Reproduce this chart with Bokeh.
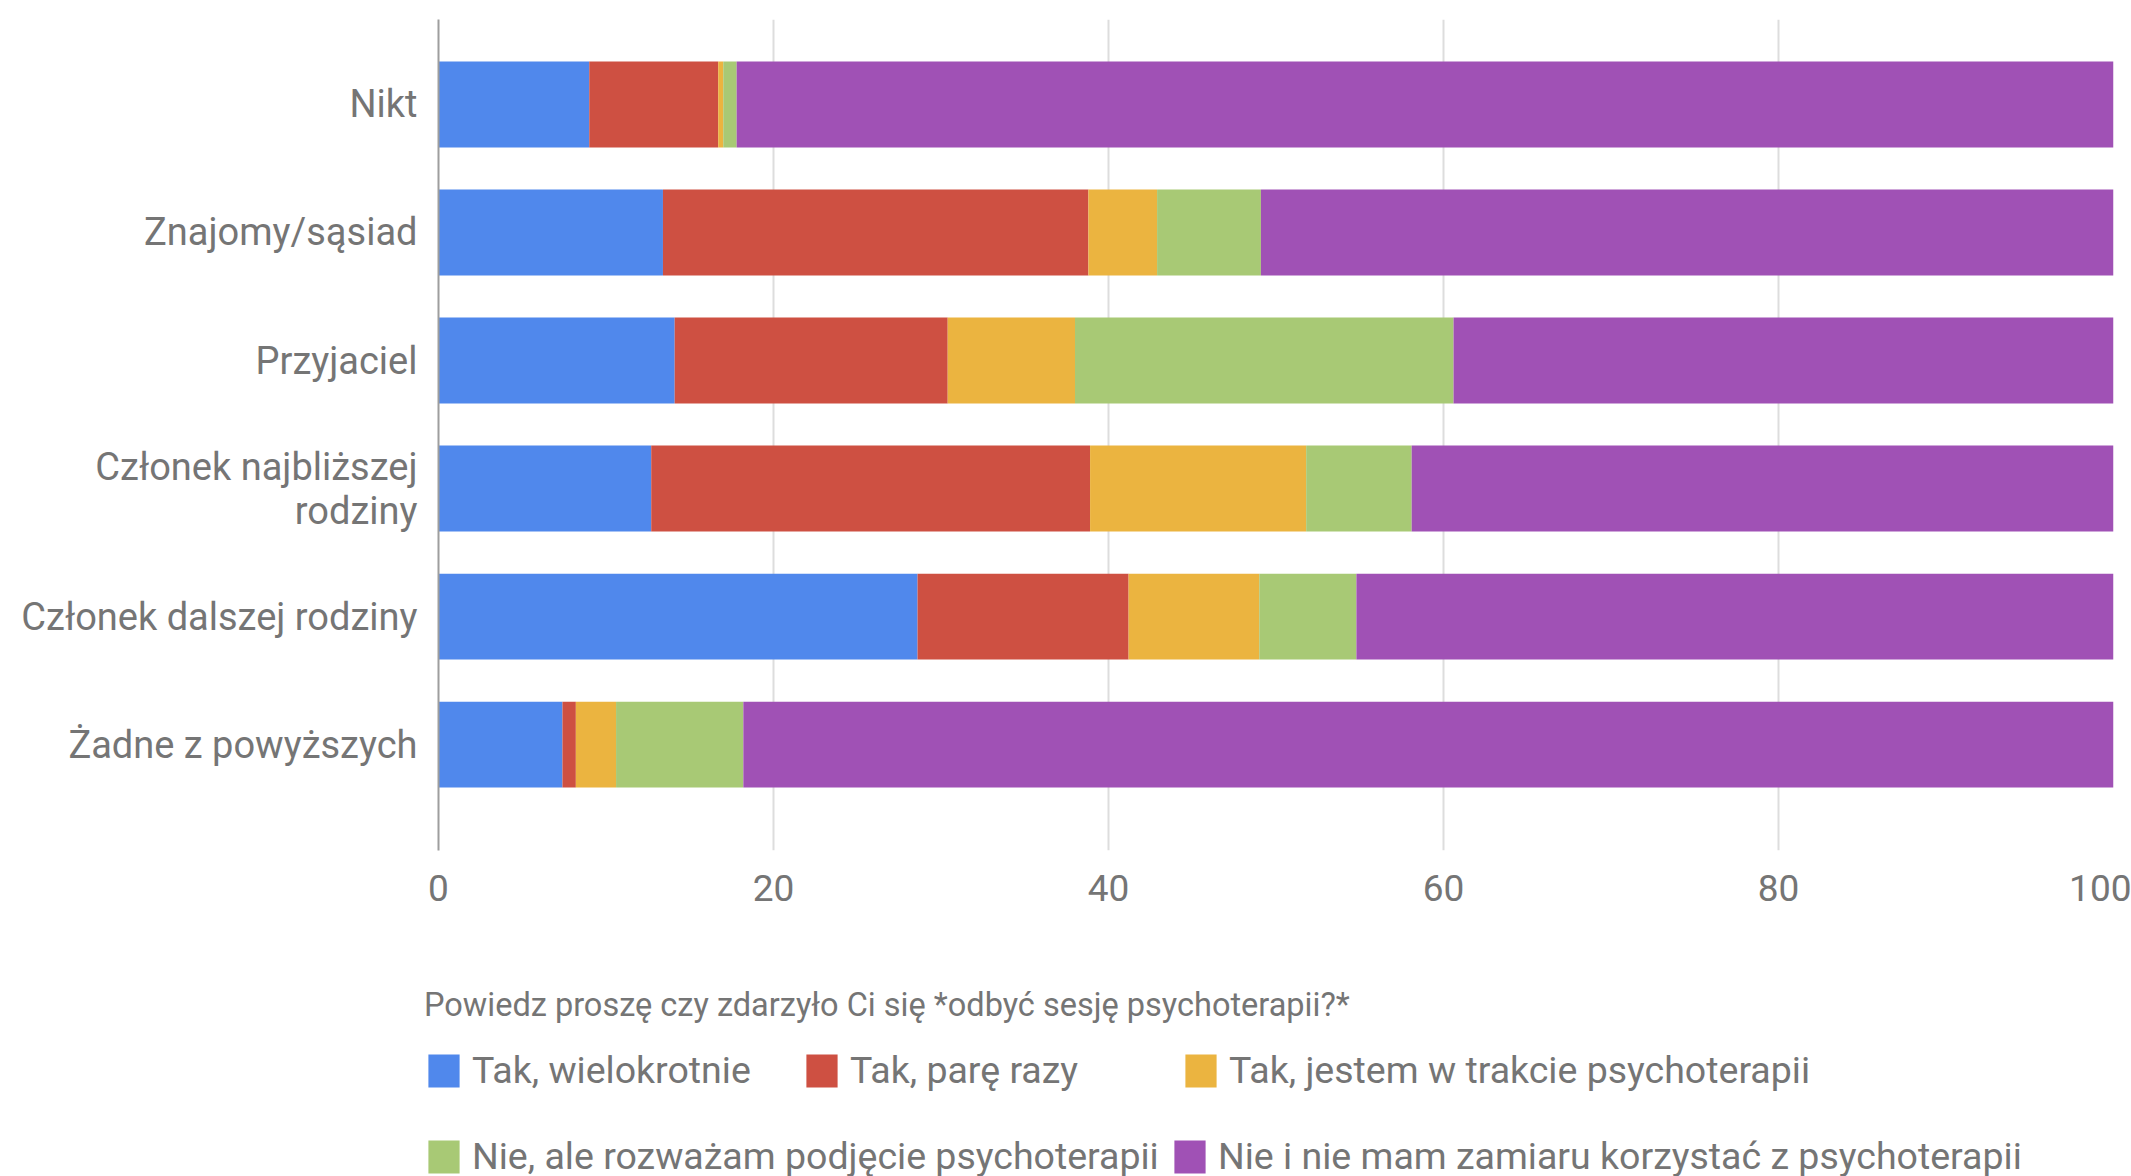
from bokeh.plotting import figure
from bokeh.layouts import column
from bokeh.models import ColumnDataSource, Range1d, FixedTicker, Legend, LegendItem
from bokeh.embed import file_html
from bokeh.resources import INLINE

# ---- data ----
categories = ["Nikt", "Znajomy/sąsiad", "Przyjaciel", "Członek najbliższej\nrodziny",
              "Członek dalszej rodziny", "Żadne z powyższych"]
tak_wielokrotnie = [9.0, 13.4, 14.1, 12.7, 28.6, 7.4]
tak_pare_razy = [7.7, 25.4, 16.3, 26.2, 12.6, 0.8]
tak_w_trakcie = [0.3, 4.1, 7.6, 12.9, 7.8, 2.4]
nie_rozwazam = [0.8, 6.2, 22.6, 6.3, 5.8, 7.6]
nie_nie_zamierzam = [82.2, 50.9, 39.4, 41.9, 45.2, 81.8]
series_labels = ["Tak, wielokrotnie", "Tak, parę razy", "Tak, jestem w trakcie psychoterapii",
                 "Nie, ale rozważam podjęcie psychoterapii", "Nie i nie mam zamiaru korzystać z psychoterapii"]
x_ticks = [0, 20, 40, 60, 80, 100]
legend_title = "Powiedz proszę czy zdarzyło Ci się *odbyć sesję psychoterapii?*"

colors = ["#5088EC", "#CE5042", "#EBB440", "#A8C975", "#A051B5"]
FONT = "Roboto"
GREY = "#757575"

keys = ["s0", "s1", "s2", "s3", "s4"]
ypos = list(range(len(categories)))[::-1]
src = ColumnDataSource(dict(y=ypos, s0=tak_wielokrotnie, s1=tak_pare_razy, s2=tak_w_trakcie,
                            s3=nie_rozwazam, s4=nie_nie_zamierzam))

p = figure(width=2131, height=960, output_backend="svg", toolbar_location=None,
           x_range=Range1d(0, 100), y_range=Range1d(-0.828, 5.664),
           min_border_left=438, min_border_right=18, min_border_top=19, min_border_bottom=110)
p.frame_align = False
p.outline_line_color = None
p.background_fill_color = "white"
p.border_fill_color = "white"

renderers = p.hbar_stack(keys, y="y", height=0.67, color=colors, source=src, line_color=None)

# axes
p.xaxis.ticker = FixedTicker(ticks=x_ticks)
p.xaxis.axis_line_color = None
p.xaxis.major_tick_line_color = None
p.xaxis.minor_tick_line_color = None
p.xaxis.major_label_text_font = FONT
p.xaxis.major_label_text_font_size = "37px"
p.xaxis.major_label_text_color = GREY
p.xaxis.major_label_standoff = 18

p.yaxis.ticker = FixedTicker(ticks=ypos)
p.yaxis.major_label_overrides = {y: c for y, c in zip(ypos, categories)}
p.yaxis.axis_line_color = "#9e9e9e"
p.yaxis.axis_line_width = 2
p.yaxis.major_tick_line_color = None
p.yaxis.minor_tick_line_color = None
p.yaxis.major_label_text_font = FONT
p.yaxis.major_label_text_font_size = "38px"
p.yaxis.major_label_text_color = GREY
p.yaxis.major_label_text_line_height = 1.0
p.yaxis.major_label_standoff = 15

p.ygrid.grid_line_color = None
p.xgrid.ticker = FixedTicker(ticks=x_ticks)
p.xgrid.grid_line_color = "#dddddd"
p.xgrid.grid_line_width = 2

# ---- legend area (flow layout like the reference) ----
lg = figure(width=2131, height=216, output_backend="svg", toolbar_location=None,
            x_range=Range1d(0, 1), y_range=Range1d(0, 1),
            x_axis_location=None, y_axis_location=None,
            min_border_left=0, min_border_right=0, min_border_top=0, min_border_bottom=0)
lg.frame_align = False
lg.outline_line_color = None
lg.grid.visible = False
lg.border_fill_color = "white"
lg.background_fill_color = "white"

# legend proxies: one bar per series, placed outside the visible range
proxy = [lg.hbar(y=[-10], left=[0], right=[1], height=1, color=c, line_color=None) for c in colors]

positions = [(424, 84), (802, 84), (1181, 84), (424, -2), (1170, -2)]
for i, (r, lab, loc) in enumerate(zip(proxy, series_labels, positions)):
    leg = Legend(items=[LegendItem(label=lab, renderers=[r])], location=loc,
                 orientation="horizontal", padding=0, margin=0, spacing=0,
                 glyph_width=39, glyph_height=41, label_height=41, label_standoff=9,
                 label_text_font=FONT, label_text_font_size="37.5px", label_text_color=GREY,
                 border_line_color=None, background_fill_alpha=0)
    if i == 0:
        leg.title = legend_title
        leg.title_text_font = FONT
        leg.title_text_font_size = "32.5px"
        leg.title_text_font_style = "normal"
        leg.title_text_color = GREY
        leg.title_standoff = 24
    lg.add_layout(leg, "center")

layout = column(p, lg, spacing=0)
open("out.html", "w").write(file_html(layout, INLINE))
